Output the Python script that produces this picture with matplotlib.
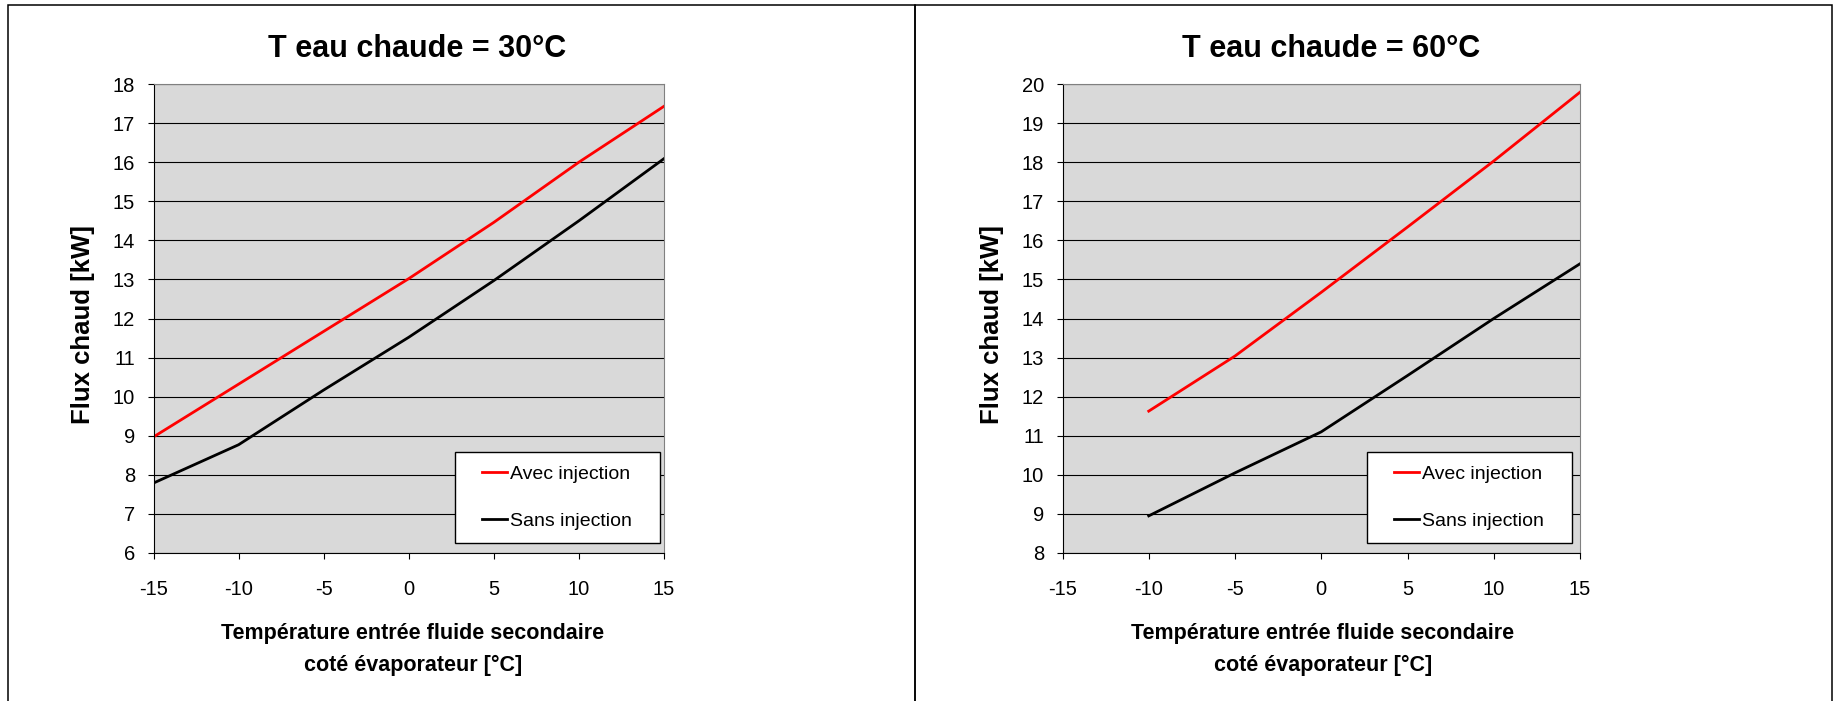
import matplotlib
matplotlib.use('Agg')
import matplotlib.pyplot as plt
from matplotlib.lines import Line2D
from matplotlib.legend_handler import HandlerLine2D
from matplotlib.patches import Rectangle

# Température entrée fluide secondaire [°C]
t_entree_30 = [-15, -10, -5, 0, 5, 10, 15]
t_entree_60 = [-10, -5, 0, 5, 10, 15]

# Flux chaud [kW] - T eau chaude = 30°C
avec_inj_30 = [8.97, 10.32, 11.67, 13.02, 14.46, 16.0, 17.43]
sans_inj_30 = [7.79, 8.77, 10.17, 11.52, 12.97, 14.5, 16.09]

# Flux chaud [kW] - T eau chaude = 60°C
avec_inj_60 = [11.63, 13.04, 14.67, 16.34, 18.03, 19.79]
sans_inj_60 = [8.95, 10.05, 11.1, 12.54, 14.0, 15.40]

x_ticks = [-15, -10, -5, 0, 5, 10, 15]
y_limits = [(6, 18), (8, 20)]
titres = ['T eau chaude = 30°C', 'T eau chaude = 60°C']
labels = ['Avec injection', 'Sans injection']

plt.rcParams['font.family'] = ['Liberation Sans', 'DejaVu Sans']
plt.rcParams['axes.unicode_minus'] = False

W, H = 1837, 701
fig = plt.figure(figsize=(W / 100, H / 100), dpi=100)

# positions en pixels (gauche, droite) de chaque zone de tracé
zones = [(153.5, 664.0), (1062.5, 1580.0)]
top_px, bottom_px = 84.0, 553.0
cadres = [(8, 915), (915, 1832)]
titre_x = [417.5, 1331.0]
xlabel_x = [413.0, 1323.0]
leg_box = [(0.5906, 0.0213, 0.4016, 0.194), (0.5878, 0.0213, 0.3967, 0.194)]

series = [
    (t_entree_30, avec_inj_30, sans_inj_30),
    (t_entree_60, avec_inj_60, sans_inj_60),
]

for i, (x, avec, sans) in enumerate(series):
    x0, x1 = zones[i]
    ax = fig.add_axes([x0 / W, (H - bottom_px) / H,
                       (x1 - x0) / W, (bottom_px - top_px) / H])
    ax.set_facecolor('#D9D9D9')

    l1, = ax.plot(x, avec, color='#FF0000', lw=2.0, label=labels[0])
    l2, = ax.plot(x, sans, color='black', lw=2.0, label=labels[1])

    ax.set_xlim(-15, 15)
    ax.set_ylim(*y_limits[i])
    ax.set_xticks(x_ticks)
    ax.set_yticks(range(y_limits[i][0], y_limits[i][1] + 1))
    ax.yaxis.grid(True, color='black', lw=0.8)
    ax.tick_params(axis='both', direction='out', length=4.3, width=0.8,
                   labelsize=14.5, color='black')
    ax.tick_params(axis='x', pad=15)
    ax.tick_params(axis='y', pad=9)
    for s in ['top', 'right']:
        ax.spines[s].set_color('#808080')
    for s in ['left', 'bottom']:
        ax.spines[s].set_color('black')

    leg = ax.legend(handles=[l1, l2], loc='lower left',
                    bbox_to_anchor=leg_box[i], mode='expand',
                    borderaxespad=0, borderpad=0.68, labelspacing=1.5,
                    handlelength=2.0, handletextpad=0.15, fontsize=14,
                    fancybox=False, edgecolor='black', framealpha=1,
                    handler_map={Line2D: HandlerLine2D(xpad=0.71)})
    leg.get_frame().set_linewidth(1.0)

    # titre et libellés des axes
    fig.text(titre_x[i] / W, (H - 56.7) / H, titres[i], ha='center',
             va='baseline', fontsize=22, fontweight='bold')
    fig.text(xlabel_x[i] / W, (H - 639.3) / H,
             'Température entrée fluide secondaire', ha='center',
             va='baseline', fontsize=15.5, fontweight='bold')
    fig.text(xlabel_x[i] / W, (H - 671.0) / H,
             'coté évaporateur [°C]', ha='center',
             va='baseline', fontsize=15.5, fontweight='bold')
    fig.text((x0 - 70.3) / W, (H - 325) / H, 'Flux chaud [kW]',
             rotation=90, ha='center', va='center', fontsize=18.5,
             fontweight='bold')

    # cadre de chaque graphique
    c0, c1 = cadres[i]
    fig.add_artist(Rectangle((c0 / W, -0.02), (c1 - c0) / W,
                             (H - 4.5) / H + 0.02, transform=fig.transFigure,
                             fill=False, ec='black', lw=1.1))

fig.savefig('out.png', dpi=100)
